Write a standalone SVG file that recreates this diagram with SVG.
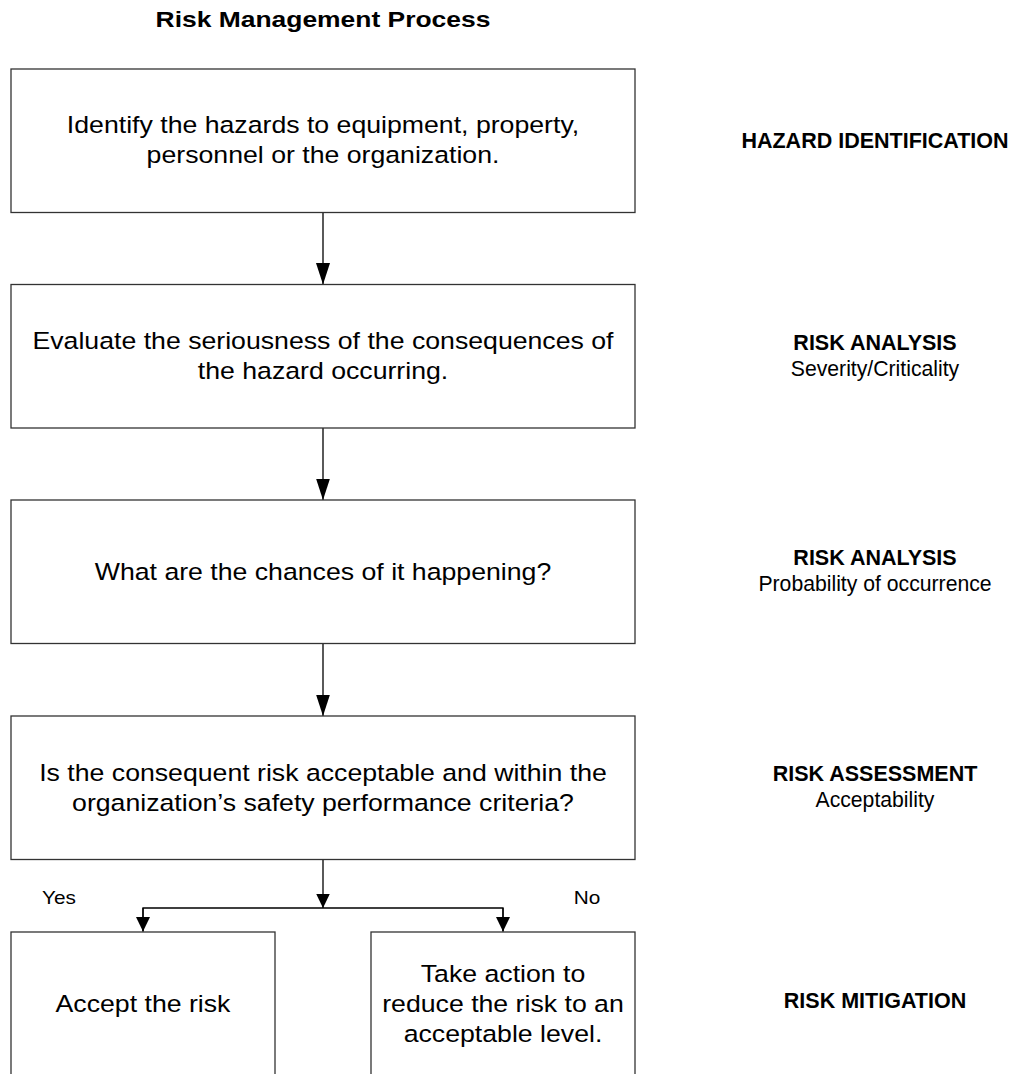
<svg xmlns="http://www.w3.org/2000/svg" width="1012" height="1074" viewBox="0 0 1012 1074">
<defs>
<style>
.box{fill:#fff;stroke:#333;stroke-width:1.3}
.m{font-family:"Liberation Sans",Arial,sans-serif;font-size:23.5px;text-anchor:middle;fill:#000}
.yn{font-family:"Liberation Sans",Arial,sans-serif;font-size:18px;text-anchor:middle;fill:#000}
.t{font-family:"Liberation Sans",Arial,sans-serif;font-size:21.5px;font-weight:bold;text-anchor:middle;fill:#000}
.lb{font-family:"Liberation Sans",Arial,sans-serif;font-size:21.5px;font-weight:bold;text-anchor:middle;fill:#000}
.ls{font-family:"Liberation Sans",Arial,sans-serif;font-size:21.2px;text-anchor:middle;fill:#000}
.c{stroke:#000;stroke-width:1.3;fill:none}
</style>
<marker id="ah" markerUnits="userSpaceOnUse" markerWidth="22" markerHeight="14" refX="21.5" refY="7" orient="auto">
<path d="M0,0 L21.5,7 L0,14 Z" fill="#000"/>
</marker>
<marker id="ahs" markerUnits="userSpaceOnUse" markerWidth="15" markerHeight="14" refX="14.5" refY="7" orient="auto">
<path d="M0,0 L14.5,7 L0,14 Z" fill="#000"/>
</marker>
</defs>
<rect width="1012" height="1074" fill="#fff"/>

<text class="t" transform="translate(323 27.3) scale(1.23 1)">Risk Management Process</text>

<g id="connectors">
<line class="c" x1="323" y1="212.5" x2="323" y2="284.5" marker-end="url(#ah)"/>
<line class="c" x1="323" y1="428" x2="323" y2="500" marker-end="url(#ah)"/>
<line class="c" x1="323" y1="643.5" x2="323" y2="716" marker-end="url(#ah)"/>
<line class="c" x1="323" y1="859.5" x2="323" y2="908" marker-end="url(#ahs)"/>
<path class="c" d="M143,931.5 V908 H503 V931.5"/>
<line class="c" x1="143" y1="908" x2="143" y2="931.5" marker-end="url(#ahs)"/>
<line class="c" x1="503" y1="908" x2="503" y2="931.5" marker-end="url(#ahs)"/>
</g>

<g id="n1">
<rect class="box" x="11" y="69" width="624" height="143.5"/>
<text class="m" transform="translate(323 133) scale(1.135 1)">Identify the hazards to equipment, property,</text>
<text class="m" transform="translate(323 163) scale(1.135 1)">personnel or the organization.</text>
</g>
<g id="n2">
<rect class="box" x="11" y="284.5" width="624" height="143.5"/>
<text class="m" transform="translate(323 349) scale(1.135 1)">Evaluate the seriousness of the consequences of</text>
<text class="m" transform="translate(323 379) scale(1.135 1)">the hazard occurring.</text>
</g>
<g id="n3">
<rect class="box" x="11" y="500" width="624" height="143.5"/>
<text class="m" transform="translate(323 580) scale(1.135 1)">What are the chances of it happening?</text>
</g>
<g id="n4">
<rect class="box" x="11" y="716" width="624" height="143.5"/>
<text class="m" transform="translate(323 780.5) scale(1.135 1)">Is the consequent risk acceptable and within the</text>
<text class="m" transform="translate(323 810.5) scale(1.135 1)">organization’s safety performance criteria?</text>
</g>
<g id="n5">
<rect class="box" x="11" y="932" width="264" height="160"/>
<text class="m" transform="translate(143 1011.5) scale(1.135 1)">Accept the risk</text>
</g>
<g id="n6">
<rect class="box" x="371" y="932" width="264" height="160"/>
<text class="m" transform="translate(503 981.5) scale(1.135 1)">Take action to</text>
<text class="m" transform="translate(503 1011.5) scale(1.135 1)">reduce the risk to an</text>
<text class="m" transform="translate(503 1041.5) scale(1.135 1)">acceptable level.</text>
</g>

<g id="branch-labels">
<text class="yn" transform="translate(59 904) scale(1.155 1)">Yes</text>
<text class="yn" transform="translate(587 904) scale(1.155 1)">No</text>
</g>

<g id="stage-labels">
<text class="lb" x="875" y="147.5">HAZARD IDENTIFICATION</text>
<text class="lb" x="875" y="350">RISK ANALYSIS</text>
<text class="ls" x="875" y="376">Severity/Criticality</text>
<text class="lb" x="875" y="565">RISK ANALYSIS</text>
<text class="ls" x="875" y="591">Probability of occurrence</text>
<text class="lb" x="875" y="781">RISK ASSESSMENT</text>
<text class="ls" x="875" y="807">Acceptability</text>
<text class="lb" x="875" y="1008">RISK MITIGATION</text>
</g>
</svg>
